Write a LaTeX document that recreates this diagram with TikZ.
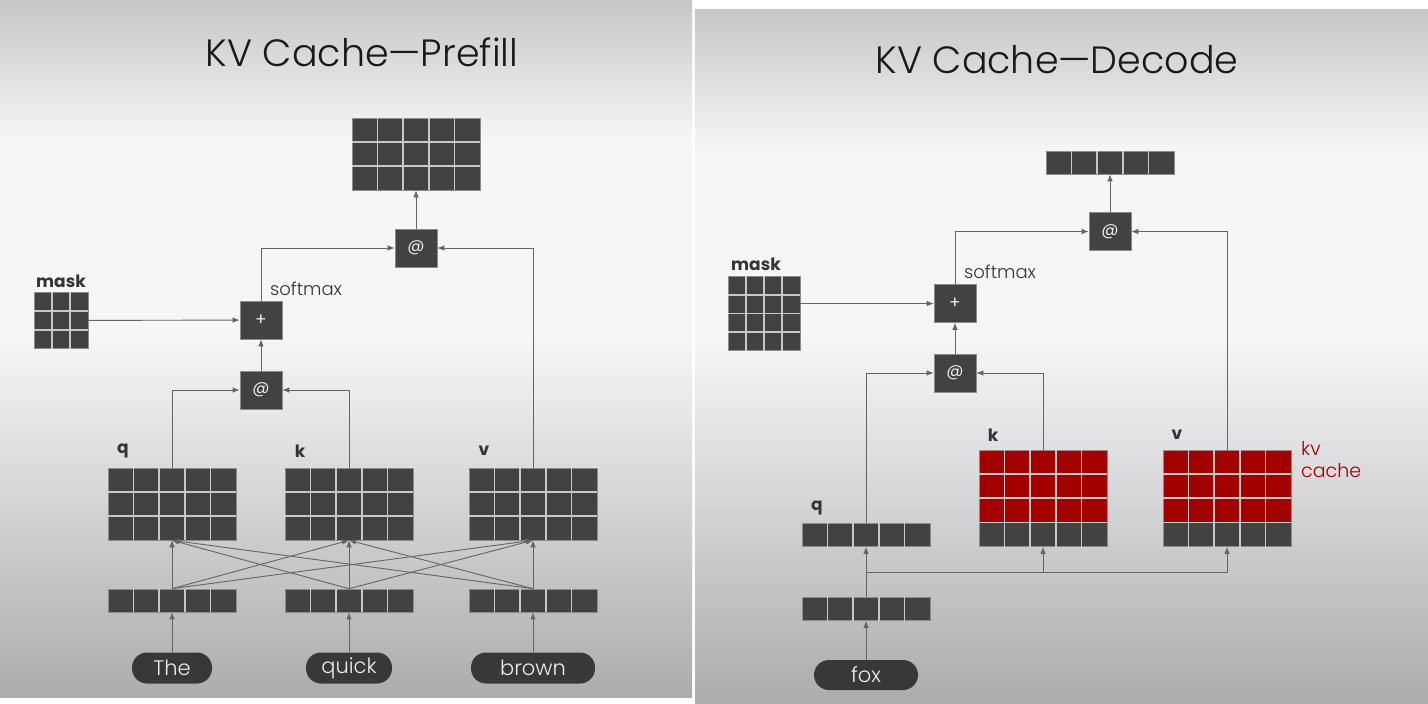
\documentclass[tikz,border=0pt]{standalone}
\usepackage{fontspec}
\setmainfont{Poppins}
\newfontfamily\titlefont{Poppins Light}
\usepackage{tikz}
\usetikzlibrary{arrows.meta,calc,positioning}
\usepackage{xcolor}
\definecolor{kvdark}{RGB}{66,66,66}
\definecolor{kvedge}{RGB}{140,140,140}
\definecolor{kvsep}{RGB}{200,200,200}
\definecolor{kvred}{RGB}{163,0,0}
\definecolor{kvline}{RGB}{100,100,100}
\definecolor{kvtext}{RGB}{52,52,52}
\definecolor{bgtop}{RGB}{198,198,201}
\definecolor{bgmid}{RGB}{246,245,247}
\definecolor{bgbot}{RGB}{172,172,174}
\tikzstyle{mat} = [rectangle, fill=kvdark, draw=kvedge, line width=0.6pt, inner sep=0pt]
\tikzstyle{op} = [rectangle, fill=kvdark, draw=kvedge, line width=0.6pt, minimum width=42pt, minimum height=38pt, inner sep=0pt, text=white!85!gray, font=\fontsize{17}{17}\selectfont]
\tikzstyle{token} = [rectangle, rounded corners=15pt, fill=kvdark!85!black, minimum height=31pt, inner sep=0pt, text=white!85!gray, font=\titlefont\fontsize{21}{21}\selectfont]
\tikzstyle{lbl} = [font=\bfseries\fontsize{17}{17}\selectfont, text=kvtext, inner sep=0pt]
\tikzstyle{note} = [font=\titlefont\fontsize{18}{18}\selectfont, text=kvtext, inner sep=0pt, anchor=west]
\tikzstyle{heading} = [font=\titlefont\fontsize{38}{38}\selectfont, text=black!90]
\tikzstyle{arrow} = [line width=0.9pt, -{Latex[length=7pt,width=5.5pt]}, color=kvline]
\tikzstyle{cellsep} = [kvsep, line width=1.6pt]
% light lines between the cells of a matrix node
\newcommand{\cellgrid}[3]{%
  \pgfmathtruncatemacro{\nc}{#2-1}%
  \pgfmathtruncatemacro{\nr}{#3-1}%
  \ifnum\nc>0
    \foreach \i in {1,...,\nc}
      \draw[cellsep] ($(#1.north west)!\i/#2!(#1.north east)$) -- ($(#1.south west)!\i/#2!(#1.south east)$);
  \fi
  \ifnum\nr>0
    \foreach \i in {1,...,\nr}
      \draw[cellsep] ($(#1.north west)!\i/#3!(#1.south west)$) -- ($(#1.north east)!\i/#3!(#1.south east)$);
  \fi
}

\begin{document}
\begin{tikzpicture}[x=1pt,y=-1pt]
\useasboundingbox (0,0) rectangle (1428,704);
% Backgrounds
\fill[white] (0,0) rectangle (1428,704);
\shade[top color=bgtop, bottom color=bgmid] (0,0) rectangle (692,140);
\fill[bgmid] (0,139.5) rectangle (692,340);
\shade[top color=bgmid, bottom color=bgbot] (0,339.5) rectangle (692,697);
\shade[top color=bgtop, bottom color=bgmid] (695,9) rectangle (1428,150);
\fill[bgmid] (695,149.5) rectangle (1428,340);
\shade[top color=bgmid, bottom color=bgbot] (695,339.5) rectangle (1428,704);

%%%%% Prefill
\node[heading] (title1) at (362,52) {KV Cache—Prefill};

% Tokens and embeddings
\node[token, minimum width=80pt] (the) at (172,668) {The};
\node[token, minimum width=86pt] (quick) at (349,668) {quick};
\node[token, minimum width=124pt] (brown) at (533,668) {brown};
\node[mat, minimum width=128pt, minimum height=23pt] (emb1) at (172,600.5) {};
\node[mat, minimum width=128pt, minimum height=23pt] (emb2) at (349,600.5) {};
\node[mat, minimum width=128pt, minimum height=23pt] (emb3) at (533,600.5) {};
\cellgrid{emb1}{5}{1}
\cellgrid{emb2}{5}{1}
\cellgrid{emb3}{5}{1}

% q, k, v
\node[mat, minimum width=128pt, minimum height=72pt] (qm) at (172,504) {};
\node[mat, minimum width=128pt, minimum height=72pt] (km) at (349,504) {};
\node[mat, minimum width=128pt, minimum height=72pt] (vm) at (533,504) {};
\cellgrid{qm}{5}{3}
\cellgrid{km}{5}{3}
\cellgrid{vm}{5}{3}
\node[lbl] (qlbl) at (123,451) {q};
\node[lbl] (klbl) at (300,451) {k};
\node[lbl] (vlbl) at (484,451) {v};

% Attention
\node[op] (att1) at (261,390) {@};
\node[op] (plus1) at (261,320) {+};
\node[op] (att2) at (416,248) {@};
\node[mat, minimum width=128pt, minimum height=72pt] (out1) at (416,154) {};
\cellgrid{out1}{5}{3}
\node[mat, minimum width=54pt, minimum height=56pt] (mask1) at (61,320.5) {};
\cellgrid{mask1}{3}{3}
\node[lbl] (masklbl1) at (61,281) {mask};
\node[note] (soft1) at (270,289) {softmax};

% Arrows
\draw[arrow] (the) -- (emb1);
\draw[arrow] (quick) -- (emb2);
\draw[arrow] (brown) -- (emb3);
\foreach \e in {emb1,emb2,emb3}
  \foreach \m in {qm,km,vm}
    \draw[arrow] (\e.north) -- (\m.south);
\draw[arrow] (qm.north) |- (att1.west);
\draw[arrow] (km.north) |- (att1.east);
\draw[arrow] (att1) -- (plus1);
\draw[arrow] (mask1) -- (plus1);
\draw[arrow] (plus1.north) |- (att2.west);
\draw[arrow] (vm.north) |- (att2.east);
\draw[arrow] (att2) -- (out1);

%%%%% Decode
\node[heading] (title2) at (1057,60) {KV Cache—Decode};

% Token and embedding
\node[token, minimum width=104pt, minimum height=30pt] (fox) at (866,675) {fox};
\node[mat, minimum width=128pt, minimum height=23pt] (emb4) at (866,609) {};
\cellgrid{emb4}{5}{1}
\coordinate (split) at (866,572);

% q, k, v with cache
\node[mat, minimum width=128pt, minimum height=23pt] (qv) at (866,535) {};
\cellgrid{qv}{5}{1}
\node[lbl] (qlbl2) at (817,508) {q};
\node[mat, fill=kvred, minimum width=128pt, minimum height=72pt] (kcache) at (1043,486) {};
\node[mat, minimum width=128pt, minimum height=24pt, below=0pt of kcache] (knew) {};
\node[mat, fill=kvred, minimum width=128pt, minimum height=72pt] (vcache) at (1227,486) {};
\node[mat, minimum width=128pt, minimum height=24pt, below=0pt of vcache] (vnew) {};
\cellgrid{kcache}{5}{3}
\cellgrid{knew}{5}{1}
\cellgrid{vcache}{5}{3}
\cellgrid{vnew}{5}{1}
\draw[cellsep] (kcache.south west) -- (kcache.south east);
\draw[cellsep] (vcache.south west) -- (vcache.south east);
\node[lbl] (klbl2) at (993,435) {k};
\node[lbl] (vlbl2) at (1177,435) {v};
\node[font=\titlefont\fontsize{19}{22}\selectfont, text=kvred, align=left, anchor=north west, inner sep=0pt] (cachelbl) at (1301,441) {kv\\cache};

% Attention
\node[op] (att3) at (955,373) {@};
\node[op] (plus2) at (955,303.5) {+};
\node[op] (att4) at (1110,231.5) {@};
\node[mat, minimum width=128pt, minimum height=23pt] (out2) at (1110,162.5) {};
\cellgrid{out2}{5}{1}
\node[mat, minimum width=72pt, minimum height=74pt] (mask2) at (764,313.5) {};
\cellgrid{mask2}{4}{4}
\node[lbl] (masklbl2) at (756,264) {mask};
\node[note] (soft2) at (964,272) {softmax};

% Arrows
\draw[arrow] (fox) -- (emb4);
\draw[arrow] (emb4.north) -- (qv.south);
\draw[arrow] (split) -| (knew.south);
\draw[arrow] (split) -| (vnew.south);
\draw[arrow] (qv.north) |- (att3.west);
\draw[arrow] (kcache.north) |- (att3.east);
\draw[arrow] (att3) -- (plus2);
\draw[arrow] (mask2.east |- plus2.west) -- (plus2.west);
\draw[arrow] (plus2.north) |- (att4.west);
\draw[arrow] (vcache.north) |- (att4.east);
\draw[arrow] (att4) -- (out2);
\end{tikzpicture}
\end{document}
